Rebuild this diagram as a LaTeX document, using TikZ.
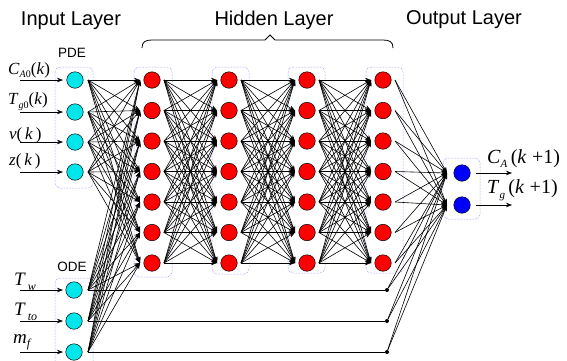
\documentclass[tikz,border=0pt]{standalone}
\usepackage{fontspec}
\setmainfont{Liberation Serif}
\newfontfamily\sansf{Liberation Sans}
\usetikzlibrary{arrows.meta,calc}
\definecolor{cyanc}{RGB}{0,230,235}
\definecolor{boxc}{RGB}{120,120,235}
\newcommand\lsub[3]{\raisebox{-#1}{\fontsize{#2}{#2}\selectfont #3}}
\begin{document}
\begin{tikzpicture}[x=1pt,y=-1pt,
  neuron/.style={circle,draw=black,line width=0.5pt,minimum size=16.5pt,inner sep=0pt},
  inn/.style={neuron,fill=cyanc},
  hid/.style={neuron,fill=red},
  outn/.style={neuron,fill=blue},
  grp/.style={draw=boxc,densely dotted,rounded corners=5pt,line width=0.5pt},
  conn/.style={line width=0.6pt,-{Stealth[length=6pt,width=4.5pt]}},
  plain/.style={line width=0.7pt},
  title/.style={font=\sansf\fontsize{20}{24}\selectfont,inner sep=0pt},
  small/.style={font=\sansf\fontsize{13.5}{16}\selectfont,inner sep=0pt},
  lblp/.style={font=\fontsize{17}{20}\selectfont,inner sep=0pt,anchor=base west},
  lblo/.style={font=\fontsize{19}{22}\selectfont,inner sep=0pt,anchor=base west},
  lblr/.style={font=\fontsize{20}{23}\selectfont,inner sep=0pt,anchor=base west},
  jdot/.style={circle,fill=black,inner sep=0pt,minimum size=4pt}]
\fill[white] (0,0) rectangle (567,360);
\useasboundingbox (0,0) rectangle (567,360);

% titles
\node[title] (tin) at (71,21) {Input Layer};
\node[title] (thid) at (274,20) {Hidden Layer};
\node[title] (tout) at (464,20) {Output Layer};
\node[small] (tpde) at (72,53) {PDE};
\node[small] (tode) at (72,267) {ODE};

% brace
\draw[line width=0.8pt] (142,48) .. controls (142,42) and (145,40) .. (152,40) -- (265,40) -- (270,35) -- (275,40) -- (383,40) .. controls (390,40) and (393,42) .. (393,48);

% group boxes
\draw[grp] (55,67) rectangle (93,188);
\draw[grp] (55,362) -- (55,278) -- (93,278) -- (93,362);
\draw[grp] (134,67) rectangle (172,277);
\draw[grp] (212,67) rectangle (249,274);
\draw[grp] (288,67) rectangle (325,273);
\draw[grp] (366,67) rectangle (403,273);
\draw[grp] (443,158) rectangle (480,219);

% input nodes
\foreach \i/\y in {1/80,2/112,3/142,4/172}{
  \node[inn] (in\i) at (75,\y) {};
  \coordinate (in\i-o) at (88,\y);
  \coordinate (in\i-a) at (20,\y);
  \coordinate (in\i-b) at (63,\y);
}
\foreach \i/\y in {1/290,2/321,3/352}{
  \node[inn] (od\i) at (74,\y) {};
  \coordinate (od\i-o) at (88,\y);
  \coordinate (od\i-a) at (20,\y);
  \coordinate (od\i-b) at (63,\y);
  \node[jdot] (d\i) at (387,\y) {};
}

% hidden nodes
\foreach \c/\x in {1/152,2/229,3/307,4/383}{
  \foreach \r/\y in {1/80,2/110.5,3/141,4/171.5,5/202,6/232.5,7/263}{
    \node[hid] (h\c-\r) at (\x,\y) {};
    \coordinate (h\c-\r-i) at ($(h\c-\r.center)+(-12,0)$);
    \coordinate (h\c-\r-o) at ($(h\c-\r.center)+(12,0)$);
  }
}

% output nodes
\foreach \j/\y in {1/173,2/205}{
  \node[outn] (o\j) at (462,\y) {};
  \coordinate (o\j-i) at ($(o\j.center)+(-15,0)$);
  \coordinate (o\j-a) at ($(o\j.center)+(14,0)$);
  \coordinate (o\j-b) at ($(o\j.center)+(50,0)$);
}

% connections input -> hidden 1
\foreach \s in {1,...,7}{
  \foreach \i in {1,...,4}{\draw[conn] (in\i-o) -- (h1-\s-i);}
  \foreach \i in {1,...,3}{\draw[conn] (od\i-o) -- (h1-\s-i);}
}
% hidden -> hidden
\foreach \c/\n in {1/2,2/3,3/4}{
  \foreach \r in {1,...,7}{
    \foreach \s in {1,...,7}{\draw[conn] (h\c-\r-o) -- (h\n-\s-i);}
  }
}
% hidden 4 -> output
\foreach \r in {1,...,7}{
  \foreach \j in {1,2}{\draw[conn] (h4-\r-o) -- (o\j-i);}
}
% ODE bypass
\foreach \i in {1,2,3}{
  \draw[plain] (od\i-o) -- (d\i);
  \foreach \j in {1,2}{\draw[conn] (d\i) -- (o\j-i);}
}

% input arrows and labels
\foreach \i in {1,...,4}{\draw[conn] (in\i-a) -- (in\i-b);}
\foreach \i in {1,2,3}{\draw[conn] (od\i-a) -- (od\i-b);}
\foreach \j in {1,2}{\draw[conn] (o\j-a) -- (o\j-b);}

\node[lblp] (lca) at (8,74) {\textit{C}\lsub{3pt}{10}{\textit{A}0}(\textit{k})};
\node[lblp] (ltg) at (8,104) {\textit{T}\lsub{4pt}{10}{\textit{g}0}(\textit{k})};
\node[lblp] (lv) at (9,139) {\textit{v}(\,\textit{k}\,)};
\node[lblp] (lz) at (9,165) {\textit{z}(\,\textit{k}\,)};

\node[lblo] (ltw) at (14,285) {\textit{T}\lsub{5pt}{12}{\textit{\,w}}};
\node[lblo] (ltt) at (14,315) {\textit{T}\lsub{5pt}{12}{\textit{\,to}}};
\node[lblo] (lmf) at (13,343) {\textit{m}\lsub{4pt}{12}{\textit{f}}};

\node[lblr] (lcout) at (487,163) {\textit{C}\lsub{4pt}{11}{\textit{A}}\,(\textit{k}\;+1)};
\node[lblr] (ltout) at (487,193) {\textit{T}\lsub{5pt}{11}{\textit{g}}\,(\textit{k}\;+1)};
\end{tikzpicture}
\end{document}
